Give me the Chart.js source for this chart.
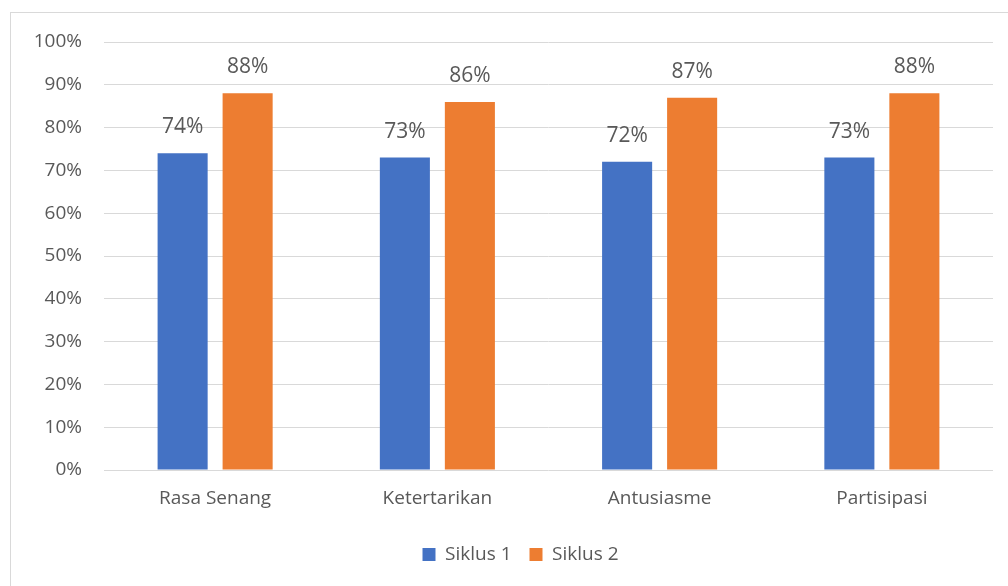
<!DOCTYPE html>
<html>
<head>
<meta charset="utf-8">
<script src="https://cdn.jsdelivr.net/npm/chart.js@4.4.0/dist/chart.umd.min.js"></script>
<style>
  html, body { margin: 0; padding: 0; background: #fff; overflow: hidden; }
  #wrap { position: relative; width: 1008px; height: 586px; }
  #frame { position: absolute; left: 10px; top: 12px; width: 1010px; height: 600px; border: 1px solid #d9d9d9; box-sizing: border-box; pointer-events: none; }
  canvas { position: absolute; left: 0; top: 0; }
</style>
</head>
<body>
<div id="wrap">
  <canvas id="c" width="1008" height="586"></canvas>
  <div id="frame"></div>
</div>
<script>
const categories = ["Rasa Senang", "Ketertarikan", "Antusiasme", "Partisipasi"];
const siklus1 = [74, 73, 72, 73];
const siklus2 = [88, 86, 87, 88];
const seriesNames = ["Siklus 1", "Siklus 2"];
const yTicks = [0, 10, 20, 30, 40, 50, 60, 70, 80, 90, 100];

const FONT = "'Open Sans', 'Noto Sans', sans-serif";

const labelPlugin = {
  id: 'valueLabels',
  afterDatasetsDraw(chart) {
    const ctx = chart.ctx;
    ctx.save();
    ctx.font = "21px " + FONT;
    ctx.fillStyle = '#595959';
    ctx.textAlign = 'center';
    ctx.textBaseline = 'middle';
    chart.data.datasets.forEach((ds, i) => {
      const meta = chart.getDatasetMeta(i);
      meta.data.forEach((bar, j) => {
        ctx.fillText(ds.data[j] + '%', bar.x, bar.y - 26);
      });
    });
    ctx.restore();
  }
};

const legendShift = {
  id: 'legendShift',
  afterLayout(chart) {
    if (chart.legend) {
      chart.legend.left += 48;
      chart.legend.width -= 48;
    }
  }
};

new Chart(document.getElementById('c'), {
  type: 'bar',
  data: {
    labels: categories,
    datasets: [
      { label: seriesNames[0], data: siklus1, backgroundColor: '#4472C4', categoryPercentage: 0.585, barPercentage: 0.77 },
      { label: seriesNames[1], data: siklus2, backgroundColor: '#ED7D31', categoryPercentage: 0.585, barPercentage: 0.77 }
    ]
  },
  options: {
    responsive: false,
    animation: false,
    layout: { padding: { top: 42, right: 15, left: 0, bottom: 12 } },
    plugins: {
      legend: {
        position: 'bottom',
        labels: {
          font: { size: 19, family: FONT },
          color: '#595959',
          boxWidth: 13,
          boxHeight: 13,
          padding: 18
        }
      },
      tooltip: { enabled: false }
    },
    scales: {
      x: {
        grid: { display: false, drawTicks: false },
        border: { display: false },
        ticks: { color: '#595959', font: { size: 19, family: FONT }, padding: 17 },
        afterFit(scale) { scale.height = 57; }
      },
      y: {
        min: 0, max: 100,
        afterBuildTicks(scale) { scale.ticks = yTicks.map(v => ({ value: v })); },
        grid: { color: '#d9d9d9', lineWidth: 1, drawTicks: false },
        border: { display: false },
        ticks: { color: '#595959', font: { size: 19, family: FONT }, padding: 22, callback: v => v + '%' },
        afterFit(scale) { scale.width = 104; }
      }
    }
  },
  plugins: [labelPlugin, legendShift]
});
</script>
</body>
</html>
